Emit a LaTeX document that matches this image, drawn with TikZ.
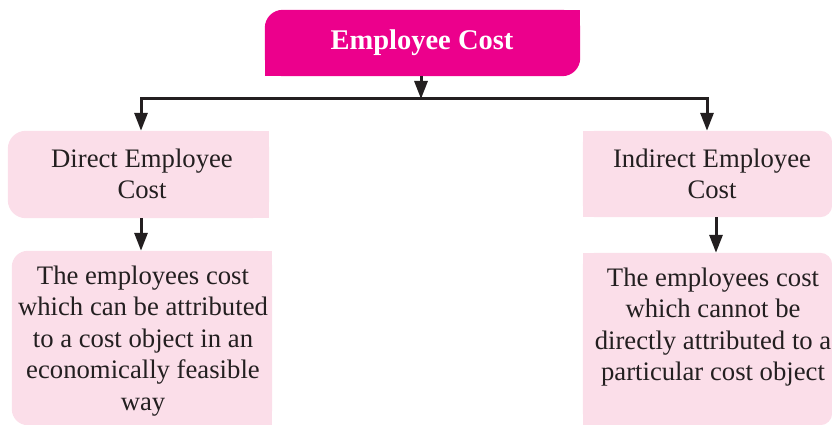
\documentclass[tikz,border=0pt]{standalone}
\usepackage{fontspec}
\setmainfont{Liberation Serif}
\newfontfamily\timesfont{Liberation Serif}
\usetikzlibrary{arrows.meta}
\definecolor{mag}{RGB}{236,0,140}
\definecolor{lpink}{RGB}{251,222,233}
\definecolor{ink}{RGB}{35,31,32}
\tikzset{
  x=1pt, y=-1pt,
  boxshape/.style={rectangle, inner sep=0pt, draw=none},
  body/.style={text=ink, align=center, font=\timesfont\fontsize{26.7}{31.5}\selectfont, inner sep=0pt},
  title/.style={text=white, font=\timesfont\fontsize{28.5}{33}\selectfont\bfseries, inner sep=0pt},
  conn/.style={draw=ink, line width=3pt},
  arr/.style={conn, -{Triangle[length=18pt,width=13pt]}}
}
\begin{document}
\begin{tikzpicture}
\useasboundingbox (0,0) rectangle (832,425);
% box shapes
\node[boxshape, minimum width=315pt, minimum height=66pt] (top) at (422.5,43) {};
\node[boxshape, minimum width=261pt, minimum height=87pt] (lh) at (138.5,174.5) {};
\node[boxshape, minimum width=249pt, minimum height=86pt] (rh) at (707.5,174) {};
\node[boxshape, minimum width=260pt, minimum height=174pt] (lt) at (142,338) {};
\node[boxshape, minimum width=249pt, minimum height=172pt] (rt) at (707.5,339) {};
% fills
\fill[mag, rounded corners=18pt] (top.south west) rectangle (top.north east);
\fill[mag] (top.center) rectangle (top.north east);
\fill[mag] (top.south west) rectangle (top.center);
\fill[lpink, rounded corners=18pt] (lh.south west) rectangle (lh.north east);
\fill[lpink] (lh.south) rectangle (lh.north east);
\fill[lpink, rounded corners=12pt] (rh.south west) rectangle (rh.north east);
\fill[lpink] (rh.south west) rectangle (rh.north);
\fill[lpink, rounded corners=16pt] (lt.south west) rectangle (lt.north east);
\fill[lpink] (lt.south) rectangle (lt.north east);
\fill[lpink, rounded corners=12pt] (rt.south west) rectangle (rt.north east);
\fill[lpink] (rt.south west) rectangle (rt.north);
% texts
\node[title] (t0) at (422,43) {Employee Cost};
\node[body] (t1) at (142,174) {Direct Employee\\Cost};
\node[body] (t2) at (712,174) {Indirect Employee\\Cost};
\node[body] (t3) at (143,341) {The employees cost\\which can be attributed\\to a cost object in an\\economically feasible\\way};
\node[body] (t4) at (713,327) {The employees cost\\which cannot be\\directly attributed to a\\particular cost object};
% connectors
\coordinate (hub) at (421,99);
\coordinate (hl) at (141,99);
\coordinate (hr) at (707,99);
\draw[arr] (top.south -| hub) -- (hub);
\draw[conn, line cap=rect] (hl) -- (hr);
\draw[arr] (hl) -- (hl |- lh.north);
\draw[arr] (hr) -- (hr |- rh.north);
\draw[arr] (lh.south -| hl) -- (hl |- lt.north);
\coordinate (rx) at (716,0);
\draw[arr] (rh.south -| rx) -- (rx |- rt.north);
\end{tikzpicture}
\end{document}
